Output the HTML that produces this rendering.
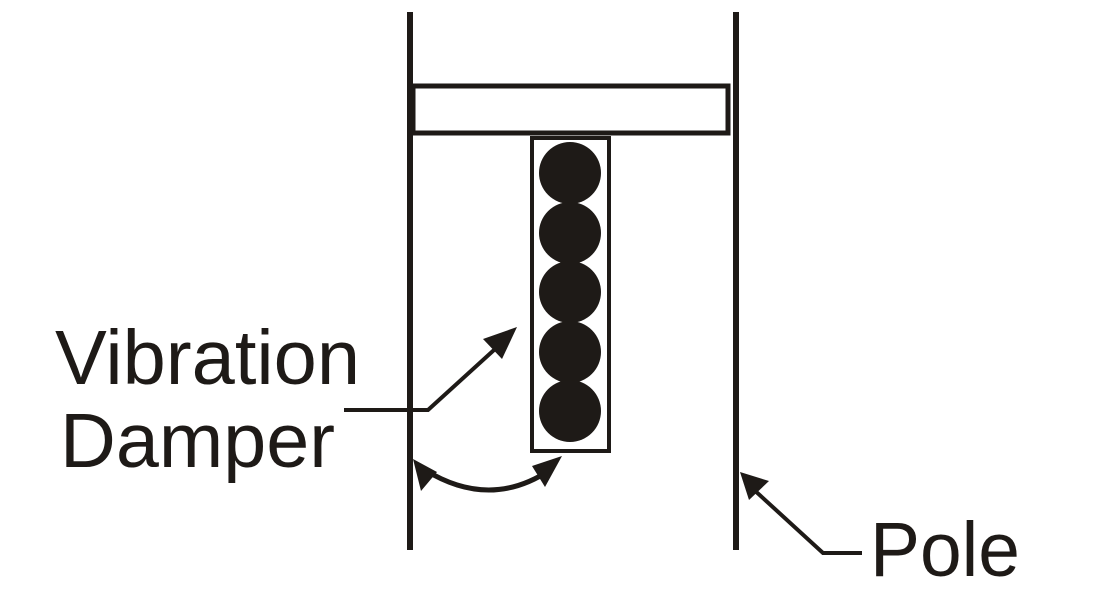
<!DOCTYPE html>
<html><head><style>html,body{margin:0;padding:0;background:#fff;}svg{display:block}</style></head>
<body>
<svg width="1100" height="595" viewBox="0 0 1100 595" xmlns="http://www.w3.org/2000/svg">
<g stroke="#1e1a17" fill="none">
<line x1="410" y1="12" x2="410" y2="550" stroke-width="6"/>
<line x1="736" y1="12" x2="736" y2="550" stroke-width="6"/>
<rect x="413" y="86" width="315" height="47" stroke-width="5"/>
<rect x="532" y="138" width="77" height="313" stroke-width="4"/>
<polyline points="344,410 428,410 505,340" stroke-width="4"/>
<path d="M425,470 Q490,510 550,470" stroke-width="5"/>
<polyline points="752,488 823,553 862,553" stroke-width="4"/>
</g>
<g fill="#1e1a17">
<circle cx="570" cy="173" r="31"/>
<circle cx="570" cy="233" r="31"/>
<circle cx="570" cy="292" r="31"/>
<circle cx="570" cy="352" r="31"/>
<circle cx="570" cy="411" r="31"/>
<polygon points="517,327 483,339 502,359"/>
<polygon points="413,459 421,491 437,472"/>
<polygon points="562,456 532,466 545,487"/>
<polygon points="740,472 749,500 769,481"/>
</g>
<g font-family="Liberation Sans, sans-serif" font-size="77" fill="#1e1a17">
<text x="55" y="384" textLength="305" lengthAdjust="spacingAndGlyphs">Vibration</text>
<text x="60" y="467" textLength="275" lengthAdjust="spacingAndGlyphs">Damper</text>
<text x="870" y="576" textLength="150" lengthAdjust="spacingAndGlyphs">Pole</text>
</g>
</svg>
</body></html>
